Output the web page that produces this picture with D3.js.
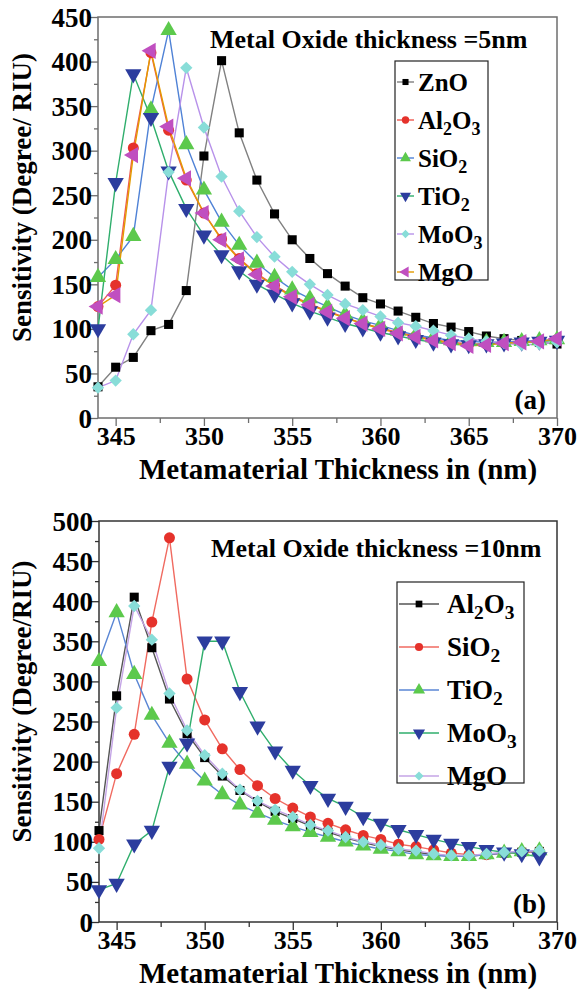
<!DOCTYPE html>
<html>
<head>
<meta charset="utf-8">
<script src="https://cdn.jsdelivr.net/npm/d3@7"></script>
<style>
  body { margin: 0; background: #fff; }
  svg text { font-family: "Liberation Serif", Tinos, "Times New Roman", Times, "DejaVu Serif", serif; font-weight: bold; fill: #000; }
</style>
</head>
<body>
<svg id="chart"></svg>
<script>
// panel (a): metal oxide thickness 5 nm
let thicknessA = [344, 345, 346, 347, 348, 349, 350, 351, 352, 353, 354, 355, 356, 357, 358, 359, 360, 361, 362, 363, 364, 365, 366, 367, 368, 369, 370]
let znoA   = [35, 57, 68, 98, 105, 143, 294, 401, 320, 267, 229, 200, 179, 162, 148, 135, 128, 120, 113, 106, 102, 97, 92, 89, 87, 85, 83]
let al2o3A = [125, 149, 303, 410, 323, 267, 230, 201, 179, 162, 149, 137, 128, 120, 113, 106, 101, 96, 92, 88, 85, 83, 83, 84, 85, 86, 88]
let sio2A  = [158, 178, 204, 346, 435, 307, 256, 220, 194, 174, 158, 144, 134, 125, 116, 109, 104, 98, 93, 90, 87, 86, 85, 85, 86, 87, 88]
let tio2A  = [100, 264, 386, 337, 277, 235, 205, 183, 165, 150, 139, 129, 120, 113, 106, 101, 96, 92, 88, 85, 83, 82, 83, 84, 85, 86, 87]
let moo3A  = [34, 42, 94, 121, 276, 393, 326, 271, 232, 203, 181, 164, 150, 138, 128, 121, 114, 107, 103, 98, 93, 89, 86, 84, 82, 83, 85]
let mgoA   = [125, 138, 295, 412, 327, 269, 230, 200, 178, 161, 148, 136, 127, 119, 112, 106, 100, 95, 91, 87, 84, 81, 82, 84, 85, 86, 89]

// panel (b): metal oxide thickness 10 nm
let thicknessB = [344, 345, 346, 347, 348, 349, 350, 351, 352, 353, 354, 355, 356, 357, 358, 359, 360, 361, 362, 363, 364, 365, 366, 367, 368, 369]
let al2o3B = [114, 282, 405, 342, 278, 235, 205, 182, 164, 150, 138, 129, 120, 112, 105, 99, 94, 90, 87, 84, 82, 82, 84, 86, 87, 88]
let sio2B  = [103, 185, 234, 374, 479, 303, 252, 216, 190, 170, 154, 142, 131, 123, 115, 108, 103, 97, 94, 90, 86, 84, 84, 86, 87, 88]
let tio2B  = [325, 386, 309, 258, 223, 197, 176, 159, 146, 136, 127, 119, 112, 106, 100, 95, 91, 88, 84, 83, 82, 82, 84, 86, 88, 89]
let moo3B  = [40, 48, 97, 114, 194, 223, 350, 350, 287, 244, 213, 189, 170, 154, 144, 131, 123, 115, 109, 103, 98, 94, 90, 87, 85, 81]
let mgoB   = [92, 267, 394, 352, 285, 239, 208, 185, 165, 151, 140, 131, 121, 114, 106, 100, 96, 91, 89, 85, 83, 83, 85, 87, 88, 89]

let xTicks = [345, 350, 355, 360, 365, 370]
let yTicksA = [0, 50, 100, 150, 200, 250, 300, 350, 400, 450]
let yTicksB = [0, 50, 100, 150, 200, 250, 300, 350, 400, 450, 500]

let width = 580
let height = 992
let serif = '"Liberation Serif", Tinos, "Times New Roman", Times, "DejaVu Serif", serif'

let svg = d3.select('#chart')
            .attr('width', width)
            .attr('height', height)
            .style('font-family', serif)

let square = { type: d3.symbolSquare, size: 82, rot: 0 }
let circle = { type: d3.symbolCircle, size: 95, rot: 0 }
let triUp = { type: d3.symbolTriangle, size: 115, rot: 0 }
let triDown = { type: d3.symbolTriangle, size: 115, rot: 180 }
let triLeft = { type: d3.symbolTriangle, size: 115, rot: -90 }
let diamond = { type: d3.symbolSquare, size: 76, rot: 45 }

let panelA = {
    left: 98, right: 557, top: 17, bottom: 418, yMax: 450, yTicks: yTicksA,
    frame: '#6e6e6e', x: thicknessA,
    title: 'Metal Oxide thickness =5nm', titleX: 210, titleY: 48, tag: '(a)', tagY: 409,
    yTitle: 'Sensitivity (Degree/ RIU)',
    legend: { x: 395, y: 61, w: 93, h: 219, row: 38, first: 21, line: 17, text: 23, size: 25, mk: 0.45 },
    series: [
        { name: ['ZnO'], v: znoA, marker: '#000', line: '#808080', sym: square },
        { name: ['Al', '2', 'O', '3'], v: al2o3A, marker: '#e5322b', line: '#f05a50', sym: circle },
        { name: ['Si', '', 'O', '2'], v: sio2A, marker: '#5cc94c', line: '#4f82d6', sym: triUp },
        { name: ['Ti', '', 'O', '2'], v: tio2A, marker: '#2c3d9e', line: '#2fae6c', sym: triDown },
        { name: ['Mo', '', 'O', '3'], v: moo3A, marker: '#88ddd8', line: '#b892ea', sym: diamond },
        { name: ['MgO'], v: mgoA, marker: '#c04fc0', line: '#e39b00', sym: triLeft }
    ]
}

let panelB = {
    left: 99, right: 557, top: 521, bottom: 922, yMax: 500, yTicks: yTicksB,
    frame: '#333', x: thicknessB,
    title: 'Metal Oxide thickness =10nm', titleX: 211, titleY: 557, tag: '(b)', tagY: 913,
    yTitle: 'Sensitivity (Degree/RIU)',
    legend: { x: 397, y: 582, w: 127, h: 201, row: 43, first: 22, line: 40, text: 50, size: 27, mk: 0.55 },
    series: [
        { name: ['Al', '2', 'O', '3'], v: al2o3B, marker: '#000', line: '#555', sym: square },
        { name: ['Si', '', 'O', '2'], v: sio2B, marker: '#e5322b', line: '#f06a60', sym: circle },
        { name: ['Ti', '', 'O', '2'], v: tio2B, marker: '#5cc94c', line: '#5a86d4', sym: triUp },
        { name: ['Mo', '', 'O', '3'], v: moo3B, marker: '#2c3d9e', line: '#2fae6c', sym: triDown },
        { name: ['MgO'], v: mgoB, marker: '#88ddd8', line: '#c4a4e6', sym: diamond }
    ]
}

function symbolPath(sym, k) {
    return d3.symbol().type(sym.type).size(sym.size * k)()
}

function addLabel(text, parts) {
    // parts: [main, sub, main, sub] -> chemical formula with subscripts
    if (parts.length == 1) { text.text(parts[0]); return }
    text.append('tspan').text(parts[0])
    if (parts[1] != '') text.append('tspan').attr('dy', 6).attr('font-size', '72%').text(parts[1])
    text.append('tspan').attr('dy', parts[1] != '' ? -6 : 0).text(parts[2])
    text.append('tspan').attr('dy', 6).attr('font-size', '72%').text(parts[3])
}

function drawPanel(p) {
    let x = d3.scaleLinear().domain([344, 370]).range([p.left, p.right])
    let y = d3.scaleLinear().domain([0, p.yMax]).range([p.bottom, p.top])
    let g = svg.append('g')

    // frame
    g.append('rect')
        .attr('x', p.left).attr('y', p.top)
        .attr('width', p.right - p.left).attr('height', p.bottom - p.top)
        .attr('fill', 'none').attr('stroke', p.frame).attr('stroke-width', 1.5)

    // x axis: major ticks + minor ticks
    let xAxis = d3.axisBottom(x).tickValues(xTicks).tickSize(8).tickFormat(d3.format('d'))
    let gx = g.append('g').attr('transform', `translate(0,${p.bottom})`).call(xAxis)
    gx.attr('font-family', serif)
    gx.select('.domain').remove()
    gx.selectAll('line').attr('stroke', p.frame).attr('stroke-width', 1.3)
    gx.selectAll('text').attr('font-size', 26).attr('dy', 16)
    g.append('g').attr('transform', `translate(0,${p.bottom})`)
        .call(d3.axisBottom(x).tickValues([347.5, 352.5, 357.5, 362.5, 367.5]).tickSize(5).tickFormat(''))
        .call(a => a.select('.domain').remove())
        .selectAll('line').attr('stroke', p.frame).attr('stroke-width', 1.3)

    // y axis
    let gy = g.append('g').attr('transform', `translate(${p.left},0)`)
        .call(d3.axisLeft(y).tickValues(p.yTicks).tickSize(8))
    gy.attr('font-family', serif)
    gy.select('.domain').remove()
    gy.selectAll('line').attr('stroke', p.frame).attr('stroke-width', 1.3)
    gy.selectAll('text').attr('font-size', 27).attr('dy', 9).attr('x', -6)
    let minor = p.yTicks.slice(0, -1).map(d => d + 25)
    g.append('g').attr('transform', `translate(${p.left},0)`)
        .call(d3.axisLeft(y).tickValues(minor).tickSize(4).tickFormat(''))
        .call(a => a.select('.domain').remove())
        .selectAll('line').attr('stroke', p.frame).attr('stroke-width', 1.3)

    // axis titles
    g.append('text')
        .attr('x', 338).attr('y', p.bottom + 61)
        .attr('text-anchor', 'middle').attr('font-size', 29)
        .text('Metamaterial Thickness in (nm)')
    g.append('text')
        .attr('transform', `translate(31,${(p.top + p.bottom) / 2 - 20}) rotate(-90)`)
        .attr('text-anchor', 'middle').attr('font-size', 27)
        .text(p.yTitle)

    g.append('text').attr('x', p.titleX).attr('y', p.titleY).attr('font-size', 26).text(p.title)
    g.append('text').attr('x', p.right - 11).attr('y', p.tagY).attr('text-anchor', 'end').attr('font-size', 27).text(p.tag)

    let line = d3.line().x((d, i) => x(p.x[i])).y(d => y(d))

    p.series.forEach(s => {
        g.append('path')
            .attr('d', line(s.v))
            .attr('fill', 'none')
            .attr('stroke', s.line)
            .attr('stroke-width', 1.4)
    })
    p.series.forEach(s => {
        g.selectAll(null)
            .data(s.v)
            .enter()
            .append('path')
            .attr('d', symbolPath(s.sym, 1))
            .attr('transform', (d, i) => `translate(${x(p.x[i])},${y(d)}) rotate(${s.sym.rot})`)
            .attr('fill', s.marker)
    })

    // legend
    let L = p.legend
    g.append('rect').attr('x', L.x).attr('y', L.y).attr('width', L.w).attr('height', L.h)
        .attr('fill', '#fff').attr('stroke', '#222').attr('stroke-width', 1.2)
    p.series.forEach((s, i) => {
        let cy = L.y + L.first + i * L.row
        g.append('line').attr('x1', L.x + 2).attr('x2', L.x + 2 + L.line)
            .attr('y1', cy).attr('y2', cy).attr('stroke', s.line).attr('stroke-width', 1.4)
        g.append('path').attr('d', symbolPath(s.sym, L.mk))
            .attr('transform', `translate(${L.x + 2 + L.line / 2},${cy}) rotate(${s.sym.rot})`)
            .attr('fill', s.marker)
        let t = g.append('text').attr('x', L.x + L.text).attr('y', cy + 9).attr('font-size', L.size)
        addLabel(t, s.name)
    })
}

drawPanel(panelA)
drawPanel(panelB)
</script>
</body>
</html>
